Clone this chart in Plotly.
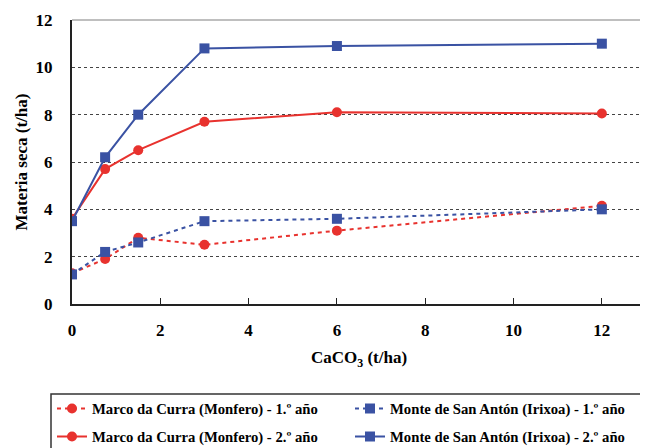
import plotly.graph_objects as go

dose = [0, 0.75, 1.5, 3, 6, 12]
marco_1 = [1.3, 1.9, 2.8, 2.5, 3.1, 4.15]
monte_1 = [1.25, 2.2, 2.6, 3.5, 3.6, 4.0]
marco_2 = [3.6, 5.7, 6.5, 7.7, 8.1, 8.05]
monte_2 = [3.5, 6.2, 8.0, 10.8, 10.9, 11.0]

names = ["Marco da Curra (Monfero) - 1.º año",
         "Monte de San Antón (Irixoa) - 1.º año",
         "Marco da Curra (Monfero) - 2.º año",
         "Monte de San Antón (Irixoa) - 2.º año"]

RED = "#E8322E"
BLUE = "#3A52A3"
FONT = "Liberation Serif, Times New Roman, serif"

W, H = 640, 440  # page adds an 8px body margin
OFF = 8
L, T, R, B = 64, 12, 2, 144
PW, PH = W - L - R, H - T - B  # 574 x 284

fig = go.Figure()
series = [
    (marco_1, names[0], RED, "circle", "4px,4px", "legend"),
    (monte_1, names[1], BLUE, "square", "4px,4px", "legend2"),
    (marco_2, names[2], RED, "circle", "solid", "legend3"),
    (monte_2, names[3], BLUE, "square", "solid", "legend4"),
]
for ys, nm, col, sym, dash, lg in series:
    fig.add_trace(go.Scatter(
        x=dose, y=ys, name=nm, mode="lines+markers",
        line=dict(color=col, width=2, dash=dash),
        marker=dict(color=col, symbol=sym, size=10),
        legend=lg, showlegend=True,
    ))

def leg(px, py):
    return dict(
        orientation="h", xref="container", yref="container",
        xanchor="left", yanchor="middle",
        x=(px - OFF) / W, y=1 - (py - OFF) / H,
        font=dict(family=FONT, size=14.7, color="black", weight="bold"),
        bgcolor="rgba(0,0,0,0)", borderwidth=0, itemwidth=30,
    )

fig.update_layout(
    width=W, height=H, showlegend=True,
    margin=dict(l=L, r=R, t=T, b=B, autoexpand=False),
    paper_bgcolor="white", plot_bgcolor="white",
    font=dict(family=FONT, size=17, color="black"),
    legend=leg(52, 409), legend2=leg(350, 409),
    legend3=leg(52, 437), legend4=leg(350, 437),
    xaxis=dict(
        range=[0, 13], tickvals=[0, 2, 4, 6, 8, 10, 12],
        showgrid=False, zeroline=False, automargin=False,
        showline=True, linecolor="#222", linewidth=2,
        ticks="inside", ticklen=6, tickcolor="#222",
        tickfont=dict(family=FONT, size=17, weight="bold"),
        ticklabelstandoff=10,
        title=dict(text="<b>CaCO<sub>3</sub> (t/ha)</b>", font=dict(family=FONT, size=17), standoff=12),
    ),
    yaxis=dict(
        range=[0, 12], tickvals=[0, 2, 4, 6, 8, 10, 12],
        showgrid=True, gridcolor="#444", griddash="dot", gridwidth=1,
        zeroline=False, automargin=False,
        showline=True, linecolor="#222", linewidth=2,
        ticks="", tickfont=dict(family=FONT, size=17, weight="bold"),
        ticklabelstandoff=14,
        title=dict(text="<b>Materia seca (t/ha)</b>", font=dict(family=FONT, size=17), standoff=4),
    ),
)

def px2paper_x(px):
    return (px - OFF - L) / PW

def py2paper_y(py):
    return 1 - (py - OFF - T) / PH

# plot frame (top and right) and legend box
fig.add_shape(type="line", xref="paper", yref="paper", x0=0, x1=1, y0=1, y1=1,
              line=dict(color="#aaa", width=1.5))
fig.add_shape(type="line", xref="paper", yref="paper", x0=1, x1=1, y0=0, y1=1,
              line=dict(color="#888", width=1.5))
fig.add_shape(type="rect", xref="paper", yref="paper",
              x0=px2paper_x(51), x1=px2paper_x(645),
              y0=py2paper_y(470), y1=py2paper_y(394),
              line=dict(color="#333", width=1.5), fillcolor="rgba(0,0,0,0)")

fig.write_html("out.html")
